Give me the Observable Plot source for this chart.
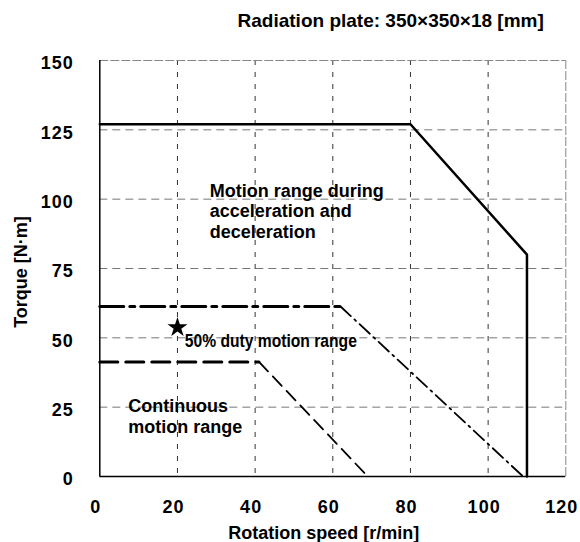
<!DOCTYPE html>
<html>
<head>
<meta charset="utf-8">
<script src="https://cdn.jsdelivr.net/npm/d3@7"></script>
<script src="https://cdn.jsdelivr.net/npm/@observablehq/plot@0.6"></script>
<style>
  html, body { margin: 0; padding: 0; background: #fff; }
  #chart svg { display: block; }
  #chart g[aria-label="x-axis tick label"] text,
  #chart g[aria-label="y-axis tick label"] text { letter-spacing: 1px; }
</style>
</head>
<body>
<div id="chart"></div>
<script>
// ---- data ----
const speedTicks = [0, 20, 40, 60, 80, 100, 120];
const torqueTicks = [0, 25, 50, 75, 100, 125, 150];
const gridSpeed = [20, 40, 60, 80, 100];
const gridTorque = [25, 50, 75, 100, 125];

// acceleration / deceleration range (solid)
const accelSpeed = [0, 80, 110, 110];
const accelTorque = [127, 127, 80, 0];

// 50% duty range (dash-dot)
const dutyFlatSpeed = [0, 62];
const dutyFlatTorque = [61.3, 61.3];
const dutySlopeSpeed = [62, 109];
const dutySlopeTorque = [61.3, 0];

// continuous range (dashed)
const contFlatSpeed = [0, 41];
const contFlatTorque = [41.3, 41.3];
const contSlopeSpeed = [41, 69];
const contSlopeTorque = [41.3, 0];

// star marker
const starSpeed = [20];
const starTorque = [53.7];

// annotation texts and anchor positions (data units)
const titleText = "Radiation plate: 350×350×18 [mm]";
const xTitle = "Rotation speed [r/min]";
const yTitle = "Torque [N·m]";
const accelLabel = "Motion range during\nacceleration and\ndeceleration";
const accelLabelPos = [28.3, 95.9];
const dutyLabel = "50% duty motion range";
const dutyLabelPos = [21.9, 48.8];
const contLabel = "Continuous\nmotion range";
const contLabelPos = [7.3, 22];

const pts = (xs, ys) => xs.map((x, i) => ({x, y: ys[i]}));

const FONT = "'Liberation Sans', Arial, Helvetica, sans-serif";

const chart = Plot.plot({
  width: 580,
  height: 542,
  marginLeft: 99.3,
  marginRight: 14.7,
  marginTop: 60,
  marginBottom: 66,
  style: {fontFamily: FONT, fontWeight: "bold", fontSize: "18px", color: "#000", background: "#fff"},
  x: {domain: [0, 120], axis: null},
  y: {domain: [0, 150], axis: null},
  marks: [
    Plot.gridY(gridTorque, {stroke: "#777", strokeOpacity: 1, strokeWidth: 1, strokeDasharray: "8,5"}),
    Plot.gridX(gridSpeed, {stroke: "#333", strokeOpacity: 1, strokeWidth: 1, strokeDasharray: "5,7"}),
    Plot.ruleY([150], {stroke: "#888", strokeWidth: 1, strokeDasharray: "9,2"}),
    Plot.ruleX([120], {stroke: "#888", strokeWidth: 1, strokeDasharray: "9,2"}),
    Plot.ruleY([0], {stroke: "#000", strokeWidth: 1.5}),
    Plot.ruleX([0], {stroke: "#000", strokeWidth: 1.5}),
    Plot.axisX(speedTicks, {anchor: "bottom", tickSize: 0, tickPadding: 23.6, dx: -4, label: null, fontSize: 18, fontWeight: "bold"}),
    Plot.axisY(torqueTicks, {anchor: "left", tickSize: 0, tickPadding: 26, dy: 3.2, label: null, fontSize: 18, fontWeight: "bold"}),
    // continuous (dashed)
    Plot.line(pts(contFlatSpeed, contFlatTorque), {x: "x", y: "y", stroke: "#000", strokeWidth: 3, strokeDasharray: "18,8"}),
    Plot.line(pts(contSlopeSpeed, contSlopeTorque), {x: "x", y: "y", stroke: "#000", strokeWidth: 1.8, strokeDasharray: "13,7"}),
    // 50% duty (dash-dot)
    Plot.line(pts(dutyFlatSpeed, dutyFlatTorque), {x: "x", y: "y", stroke: "#000", strokeWidth: 3, strokeDasharray: "24,6,5,6"}),
    Plot.line(pts(dutySlopeSpeed, dutySlopeTorque), {x: "x", y: "y", stroke: "#000", strokeWidth: 1.8, strokeDasharray: "14,5,2,5"}),
    // acceleration (solid)
    Plot.line(pts(accelSpeed, accelTorque), {x: "x", y: "y", stroke: "#000", strokeWidth: 2.5}),
    // star
    Plot.dot(pts(starSpeed, starTorque), {x: "x", y: "y", symbol: "star", r: 6.3, fill: "#000", stroke: "none"}),
    // annotations
    Plot.text([accelLabel], {x: accelLabelPos[0], y: accelLabelPos[1], textAnchor: "start", lineAnchor: "middle", lineHeight: 1.14, fontSize: 18, fontWeight: "bold"}),
    Plot.text([dutyLabel], {x: dutyLabelPos[0], y: dutyLabelPos[1], textAnchor: "start", lineAnchor: "middle", fontSize: 18, fontWeight: "bold"}),
    Plot.text([contLabel], {x: contLabelPos[0], y: contLabelPos[1], textAnchor: "start", lineAnchor: "middle", lineHeight: 1.22, fontSize: 18, fontWeight: "bold"}),
    // titles
    Plot.text([titleText], {frameAnchor: "top-right", textAnchor: "end", lineAnchor: "middle", dx: -22, dy: -40, fontSize: 19, fontWeight: "bold"}),
    Plot.text([xTitle], {frameAnchor: "bottom", textAnchor: "middle", lineAnchor: "middle", dx: -9, dy: 57, fontSize: 18, fontWeight: "bold"}),
    Plot.text([yTitle], {frameAnchor: "left", textAnchor: "middle", lineAnchor: "middle", rotate: -90, dx: -78.3, dy: 3.5, fontSize: 18, fontWeight: "bold"})
  ]
});

// condensed look of the 50% duty label
chart.querySelectorAll("text").forEach(t => {
  if (t.textContent === dutyLabel) {
    t.setAttribute("textLength", "172");
    t.setAttribute("lengthAdjust", "spacingAndGlyphs");
  }
});

document.getElementById("chart").appendChild(chart);
</script>
</body>
</html>
